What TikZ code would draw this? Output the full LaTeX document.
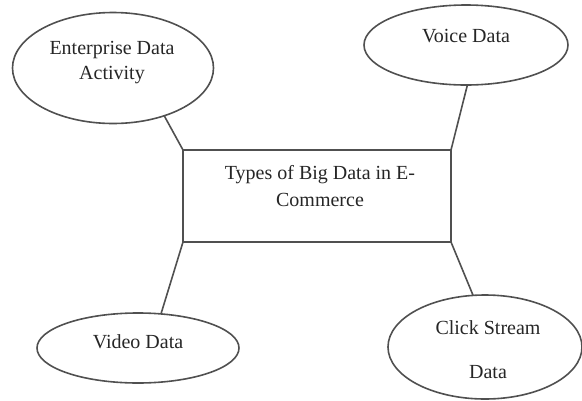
\documentclass[tikz,border=0pt]{standalone}
\usepackage{fontspec}
\setmainfont{Liberation Serif}
\usetikzlibrary{shapes.geometric}
\definecolor{ln}{HTML}{505050}
\definecolor{tx}{HTML}{262626}
\begin{document}
\begin{tikzpicture}[x=1pt,y=-1pt,
  oval/.style={draw=ln, line width=1.6pt, ellipse, inner sep=0pt, outer sep=0pt},
  box/.style={draw=ln, line width=1.6pt, rectangle, inner sep=0pt, outer sep=0pt},
  lbl/.style={text=tx, inner sep=0pt, align=center},
  link/.style={draw=ln, line width=1.6pt}]
\useasboundingbox (0,0) rectangle (582,400);
\node[oval, minimum width=201pt, minimum height=111pt] (e1) at (113,68) {};
\node[oval, minimum width=204pt, minimum height=80pt] (e2) at (466,45) {};
\node[oval, minimum width=202pt, minimum height=70pt] (e3) at (138,348) {};
\node[oval, minimum width=194pt, minimum height=104pt] (e4) at (485,347) {};
\node[box, minimum width=268pt, minimum height=92pt] (r) at (317,196) {};

\node[lbl, font=\fontsize{20}{25}\selectfont] (t1) at (112,63) {Enterprise Data\\Activity};
\node[lbl, font=\fontsize{20}{25}\selectfont] (t2) at (466,36) {Voice Data};
\node[lbl, font=\fontsize{20}{25}\selectfont] (t3) at (138,342) {Video Data};
\node[lbl, font=\fontsize{20}{44}\selectfont] (t4) at (488,350) {Click Stream\\Data};
\node[lbl, font=\fontsize{20}{27}\selectfont] (t0) at (320,186) {Types of Big Data in E-\\Commerce};

\draw[link] (e1.-43) -- (r.north west);
\draw[link] (e2.-88) -- (r.north east);
\draw[link] (r.south west) -- (e3.56);
\draw[link] (r.south east) -- (e4.103);
\end{tikzpicture}
\end{document}
